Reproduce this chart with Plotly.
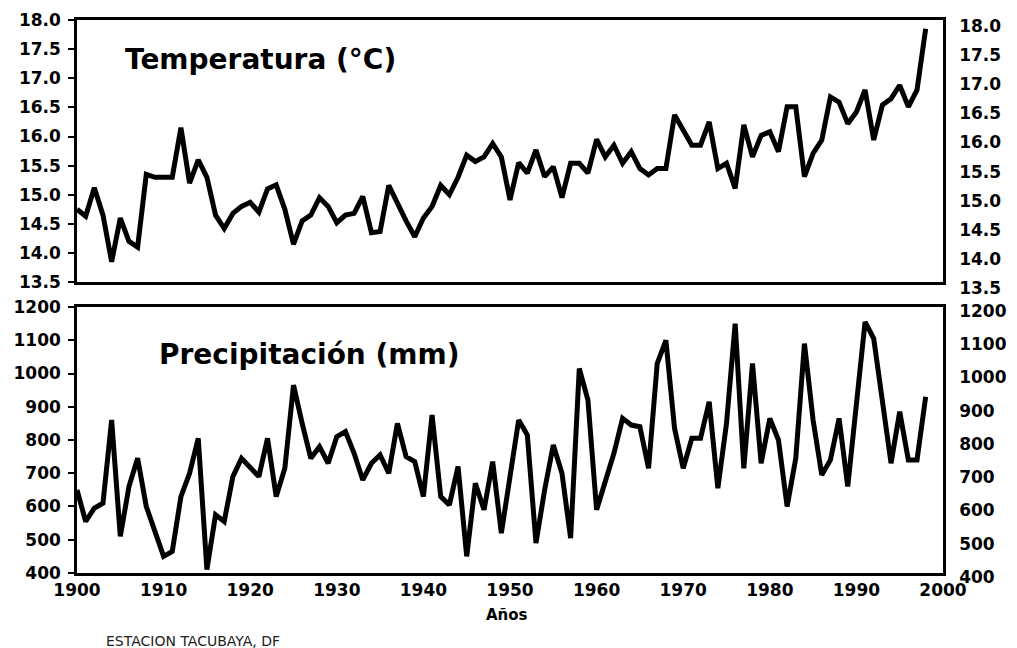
import plotly.graph_objects as go

years = list(range(1900, 1999))

temperatura = [
    14.75, 14.63, 15.12, 14.65, 13.85, 14.60, 14.20, 14.10, 15.35, 15.30,
    15.30, 15.30, 16.15, 15.20, 15.60, 15.30, 14.65, 14.42, 14.68, 14.80,
    14.87, 14.70, 15.10, 15.17, 14.75, 14.15, 14.55, 14.65, 14.95, 14.80,
    14.52, 14.65, 14.68, 14.97, 14.35, 14.37, 15.16, 14.85, 14.55, 14.28,
    14.60, 14.80, 15.16, 15.00, 15.30, 15.68, 15.57, 15.65, 15.88, 15.65,
    14.91, 15.55, 15.37, 15.77, 15.31, 15.48, 14.95, 15.54, 15.54, 15.37,
    15.95, 15.65, 15.85, 15.54, 15.74, 15.45, 15.34, 15.45, 15.45, 16.37,
    16.10, 15.85, 15.85, 16.25, 15.45, 15.54, 15.11, 16.20, 15.65, 16.02,
    16.08, 15.74, 16.51, 16.51, 15.31, 15.71, 15.94, 16.68, 16.59, 16.22,
    16.42, 16.80, 15.94, 16.54, 16.65, 16.88, 16.51, 16.80, 17.85,
]

precipitacion = [
    650, 555, 595, 610, 860, 510, 660, 745, 600, 520,
    450, 465, 630, 700, 805, 410, 575, 555, 690, 745,
    720, 690, 805, 630, 715, 965, 850, 745, 780, 730,
    810, 825, 760, 680, 730, 755, 700, 850, 750, 735,
    630, 875, 630, 605, 720, 450, 670, 590, 735, 520,
    690, 860, 815, 490, 650, 785, 700, 505, 1015, 920,
    590, 680, 760, 865, 845, 840, 715, 1030, 1100, 835,
    715, 805, 805, 915, 655, 850, 1150, 715, 1030, 730,
    865, 800, 600, 745, 1090, 860, 695, 740, 865, 660,
    900, 1155, 1105, 930, 730, 885, 740, 740, 930,
]

temp_ticks = [13.5, 14.0, 14.5, 15.0, 15.5, 16.0, 16.5, 17.0, 17.5, 18.0]
prec_ticks = [400, 500, 600, 700, 800, 900, 1000, 1100, 1200]
year_ticks = [1900, 1910, 1920, 1930, 1940, 1950, 1960, 1970, 1980, 1990, 2000]

FONT = "DejaVu Sans"
tickfont = dict(family=FONT, size=17, color="black", weight="bold")

fig = go.Figure()
fig.add_trace(go.Scatter(x=years, y=temperatura, mode="lines",
                         line=dict(color="black", width=5), xaxis="x", yaxis="y",
                         showlegend=False))
fig.add_trace(go.Scatter(x=years, y=precipitacion, mode="lines",
                         line=dict(color="black", width=5), xaxis="x2", yaxis="y2",
                         showlegend=False))

axis_common = dict(showline=True, linecolor="black", linewidth=2.5, showgrid=False,
                   zeroline=False, automargin=False)

fig.update_layout(
    width=1017, height=648,
    margin=dict(l=77, r=74, t=20, b=75),
    paper_bgcolor="white", plot_bgcolor="white",
    showlegend=False,
    xaxis=dict(domain=[0, 1], range=[1900, 2000], anchor="y", showticklabels=False,
               ticks="", mirror=True, **axis_common),
    yaxis=dict(domain=[0.526, 1], range=[13.5, 18.0], tickvals=temp_ticks,
               ticktext=[f"{v:.1f}" for v in temp_ticks], ticks="outside", ticklen=6,
               tickwidth=2, tickcolor="black", tickfont=tickfont, mirror=True,
               ticklabelstandoff=4, anchor="x", **axis_common),
    yaxis3=dict(overlaying="y", side="right", range=[13.5, 18.0], tickvals=temp_ticks,
                ticktext=[f"{v:.1f}" for v in temp_ticks], ticks="", anchor="x",
                tickfont=tickfont, ticklabelshift=6, ticklabelstandoff=10,
                **axis_common),
    xaxis2=dict(domain=[0, 1], range=[1900, 2000], anchor="y2", tickvals=year_ticks,
                ticks="", tickfont=tickfont, mirror=True, **axis_common),
    yaxis2=dict(domain=[0, 0.481], range=[400, 1200], tickvals=prec_ticks,
                ticks="outside", ticklen=6, tickwidth=2, tickcolor="black",
                tickfont=tickfont, mirror=True, ticklabelstandoff=4, anchor="x2",
                **axis_common),
    yaxis4=dict(overlaying="y2", side="right", range=[400, 1200], tickvals=prec_ticks,
                ticks="", anchor="x2", tickfont=tickfont, ticklabelshift=4,
                ticklabelstandoff=10, **axis_common),
)

# empty traces to activate the right-hand axes
fig.add_trace(go.Scatter(x=[None], y=[None], xaxis="x", yaxis="y3", showlegend=False,
                         hoverinfo="skip"))
fig.add_trace(go.Scatter(x=[None], y=[None], xaxis="x2", yaxis="y4", showlegend=False,
                         hoverinfo="skip"))

fig.add_annotation(text="Temperatura (°C)", xref="paper", yref="paper", x=0.053, y=0.928,
                   xanchor="left", yanchor="middle", showarrow=False,
                   font=dict(family=FONT, size=28, color="black", weight="bold"))
fig.add_annotation(text="Precipitación (mm)", xref="paper", yref="paper", x=0.092, y=0.396,
                   xanchor="left", yanchor="middle", showarrow=False,
                   font=dict(family=FONT, size=28, color="black", weight="bold"))
fig.add_annotation(text="Años", xref="paper", yref="paper", x=0.4965, y=-0.076,
                   xanchor="center", yanchor="middle", showarrow=False,
                   font=dict(family=FONT, size=15, color="black", weight="bold"))
fig.add_annotation(text="ESTACION TACUBAYA, DF", xref="paper", yref="paper", x=0.031,
                   y=-0.123, xanchor="left", yanchor="middle", showarrow=False,
                   font=dict(family=FONT, size=14, color="#222222"))

fig.write_html("out.html")
